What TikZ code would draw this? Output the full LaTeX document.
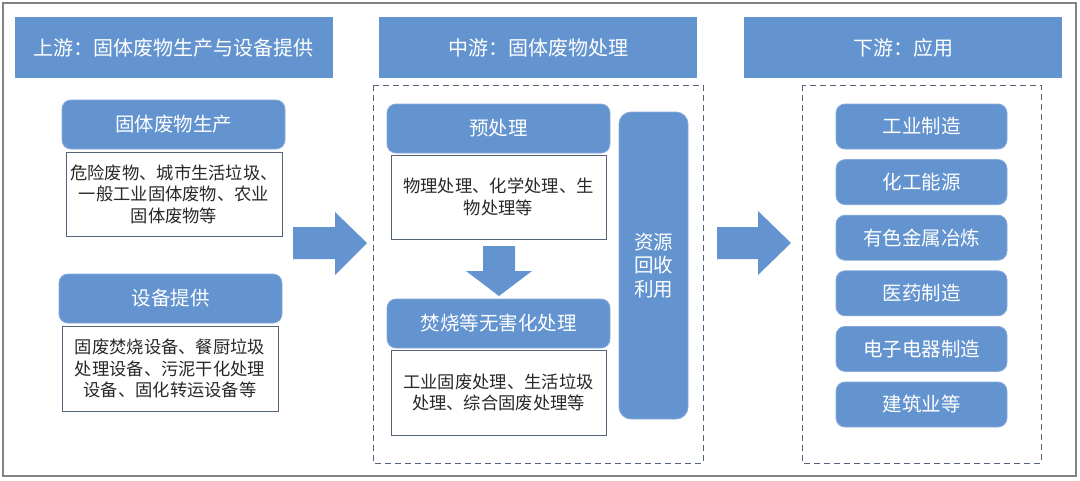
\documentclass[tikz,border=0pt]{standalone}
\usepackage{fontspec}
\newfontfamily\cjk{Noto Sans CJK SC}
\definecolor{boxblue}{RGB}{99,148,207}
\definecolor{edgeblue}{RGB}{135,170,218}
\definecolor{slate}{RGB}{84,98,122}
\definecolor{framegray}{RGB}{130,130,130}
\definecolor{inkgray}{RGB}{40,40,40}
\tikzset{
  head/.style={fill=boxblue, minimum width=318, minimum height=61, inner sep=0pt,
    text=white, font=\cjk\fontsize{20}{24}\selectfont},
  tag/.style={fill=boxblue, draw=edgeblue, line width=0.8pt, rounded corners=9pt,
    inner sep=0pt, align=center, text=white, font=\cjk\fontsize{19.5}{23}\selectfont},
  note/.style={fill=white, draw=slate, line width=1pt, inner sep=0pt, align=center,
    text=inkgray, font=\cjk\fontsize{17.3}{21.5}\selectfont},
  zone/.style={draw=slate, line width=1pt, dash pattern=on 6pt off 4pt}
}
\begin{document}
\begin{tikzpicture}[x=1pt,y=-1pt]
\useasboundingbox (0,0) rectangle (1080,480);
\draw[framegray, line width=1.5pt] (3,3) rectangle (1076,476);

% headers
\node[head] (up) at (174,47.5) {上游：固体废物生产与设备提供};
\node[head] (mid) at (538,47.5) {中游：固体废物处理};
\node[head] (down) at (903,47.5) {下游：应用};

% upstream
\node[tag, minimum width=223, minimum height=49] (waste) at (173.5,124.5) {固体废物生产};
\node[note, minimum width=216, minimum height=84] (wastetxt) at (174,194) {危险废物、城市生活垃圾、\\一般工业固体废物、农业\\固体废物等};
\node[tag, minimum width=223, minimum height=49] (equip) at (170.5,298.5) {设备提供};
\node[note, minimum width=216, minimum height=85] (equiptxt) at (170,368.5) {固废焚烧设备、餐厨垃圾\\处理设备、污泥干化处理\\设备、固化转运设备等};

% arrow up -> mid
\fill[boxblue] (293,227) -- (335,227) -- (335,212) -- (367,243) -- (335,275) -- (335,259) -- (293,259) -- cycle;

% midstream
\draw[zone] (373,85) rectangle (703,463);
\node[tag, minimum width=223, minimum height=49] (pre) at (498.5,128.5) {预处理};
\node[note, minimum width=215, minimum height=84] (pretxt) at (498.5,197) {物理处理、化学处理、生\\物处理等};
\fill[boxblue] (483,246) -- (515,246) -- (515,271) -- (532,271) -- (499,296) -- (466,271) -- (483,271) -- cycle;
\node[tag, minimum width=223, minimum height=49] (burn) at (498.5,323.5) {焚烧等无害化处理};
\node[note, minimum width=215, minimum height=85] (burntxt) at (498.5,392.5) {工业固废处理、生活垃圾\\处理、综合固废处理等};
\node[tag, minimum width=69, minimum height=307, rounded corners=12pt,
  font=\cjk\fontsize{19.5}{23.5}\selectfont] (reuse) at (653.5,265.5) {资源\\回收\\利用};

% arrow mid -> down
\fill[boxblue] (717,227) -- (758,227) -- (758,211) -- (791,243) -- (758,275) -- (758,259) -- (717,259) -- cycle;

% downstream
\draw[zone] (802,85) rectangle (1041,463);
\foreach \name [count=\i from 0] in {工业制造,化工能源,有色金属冶炼,医药制造,电子电器制造,建筑业等}
  \node[tag, minimum width=171, minimum height=45] (app\i) at (921.5,126.5+55.6*\i) {\name};
\end{tikzpicture}
\end{document}
